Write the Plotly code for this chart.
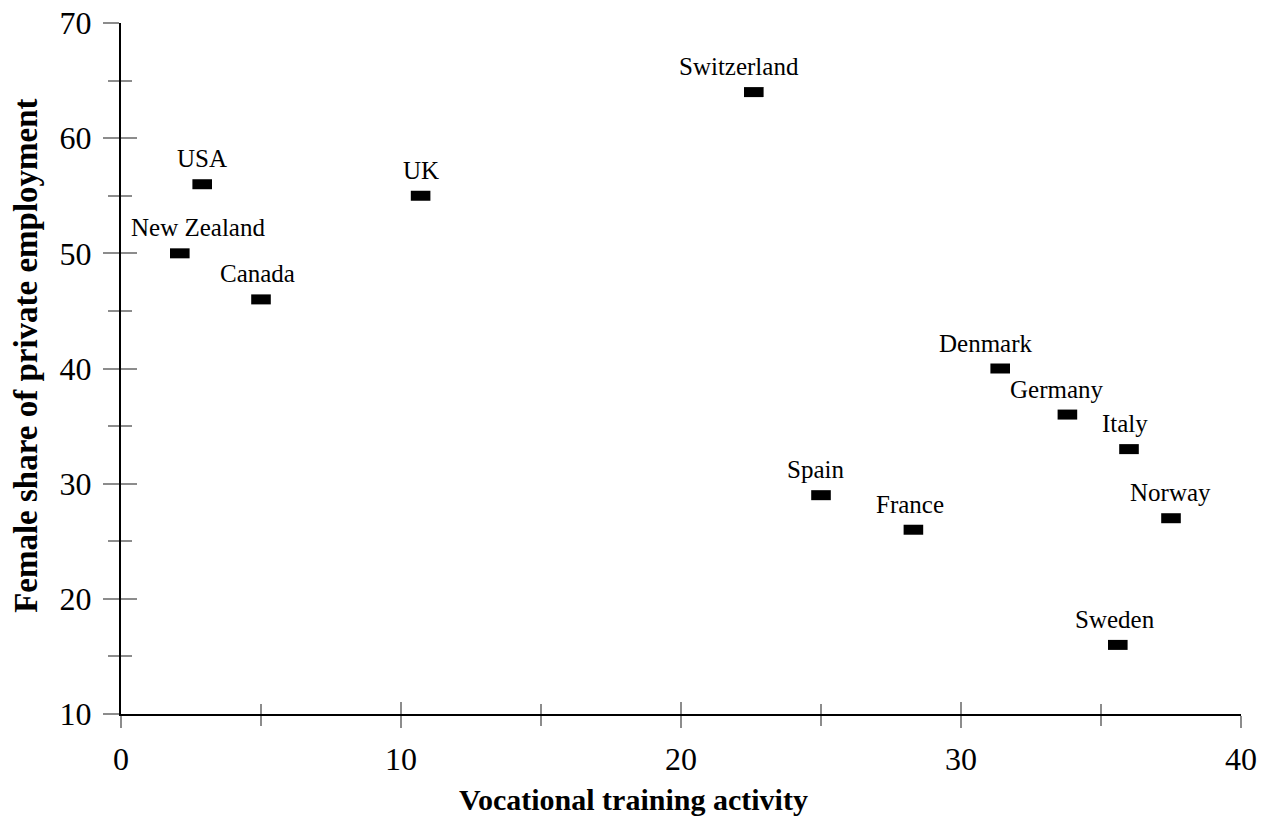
import plotly.graph_objects as go

countries = ["USA", "New Zealand", "Canada", "UK", "Switzerland", "Spain",
             "France", "Denmark", "Germany", "Italy", "Norway", "Sweden"]
training = [2.9, 2.1, 5.0, 10.7, 22.6, 25.0, 28.3, 31.4, 33.8, 36.0, 37.5, 35.6]
female_share = [56, 50, 46, 55, 64, 29, 26, 40, 36, 33, 27, 16]

x_title = "Vocational training activity"
y_title = "Female share of private employment"

# horizontal pixel shift of each label relative to its marker (layout only)
label_dx = [0, 18, -4, 0, -15, -6, -3, -14, -10, -4, -1, -3]

FONT = "Liberation Serif"
GRAY = "#8c8c8c"

fig = go.Figure()
fig.add_trace(go.Scatter(
    x=training, y=female_share, mode="markers", text=countries,
    marker=dict(symbol="line-ew", size=14, color="black",
                line=dict(width=10, color="black")),
    showlegend=False, hoverinfo="text+x+y"))
# invisible trace carrying the overlay axes (for the inner half of ticks)
fig.add_trace(go.Scatter(x=[None], y=[None], xaxis="x2", yaxis="y2",
                         showlegend=False, hoverinfo="skip"))

for c, xv, yv, dx in zip(countries, training, female_share, label_dx):
    fig.add_annotation(x=xv, y=yv, text=c, showarrow=False, xanchor="center",
                       yanchor="bottom", yshift=10, xshift=dx,
                       font=dict(family=FONT, size=25, color="black"))

# axis titles
fig.add_annotation(xref="paper", yref="paper", x=0.458, y=-0.124,
                   text="<b>%s</b>" % x_title, showarrow=False,
                   xanchor="center", yanchor="middle",
                   font=dict(family=FONT, size=30, color="black"))
fig.add_annotation(xref="paper", yref="paper", x=-0.085, y=0.518,
                   text="<b>%s</b>" % y_title, showarrow=False, textangle=-90,
                   xanchor="center", yanchor="middle",
                   font=dict(family=FONT, size=33, color="black"))

tick_common = dict(tickcolor=GRAY, tickwidth=2, showgrid=False, zeroline=False,
                   automargin=False)

fig.update_layout(
    width=1269, height=821,
    margin=dict(l=121, r=28, t=23, b=107, autoexpand=False),
    paper_bgcolor="white", plot_bgcolor="white",
    font=dict(family=FONT, color="black"),
    xaxis=dict(range=[0, 40], tick0=0, dtick=10, ticks="outside", ticklen=12,
               showline=True, linecolor="black", linewidth=2,
               tickfont=dict(size=32, family=FONT), ticklabelstandoff=4,
               ticklabeloverflow="allow",
               minor=dict(dtick=5, ticks="outside", ticklen=10,
                          tickcolor=GRAY, tickwidth=2),
               **tick_common),
    yaxis=dict(range=[10, 70], tick0=10, dtick=10, ticks="outside", ticklen=16,
               showline=True, linecolor="black", linewidth=2,
               tickfont=dict(size=32, family=FONT), ticklabelstandoff=5,
               ticklabeloverflow="allow",
               minor=dict(dtick=5, ticks="outside", ticklen=11,
                          tickcolor=GRAY, tickwidth=2),
               **tick_common),
    xaxis2=dict(range=[0, 40], overlaying="x", anchor="y", side="bottom",
                tick0=0, dtick=10, ticks="inside", ticklen=12,
                showticklabels=False, showline=False,
                minor=dict(dtick=5, ticks="inside", ticklen=10,
                           tickcolor=GRAY, tickwidth=2),
                **tick_common),
    yaxis2=dict(range=[10, 70], overlaying="y", anchor="x", side="left",
                tick0=10, dtick=10, ticks="inside", ticklen=16,
                showticklabels=False, showline=False,
                minor=dict(dtick=5, ticks="inside", ticklen=11,
                           tickcolor=GRAY, tickwidth=2),
                **tick_common),
)

fig.write_html("out.html",
               config={"displayModeBar": False},
               post_script="document.body.style.margin='0';"
                           "document.body.style.overflow='hidden';")
